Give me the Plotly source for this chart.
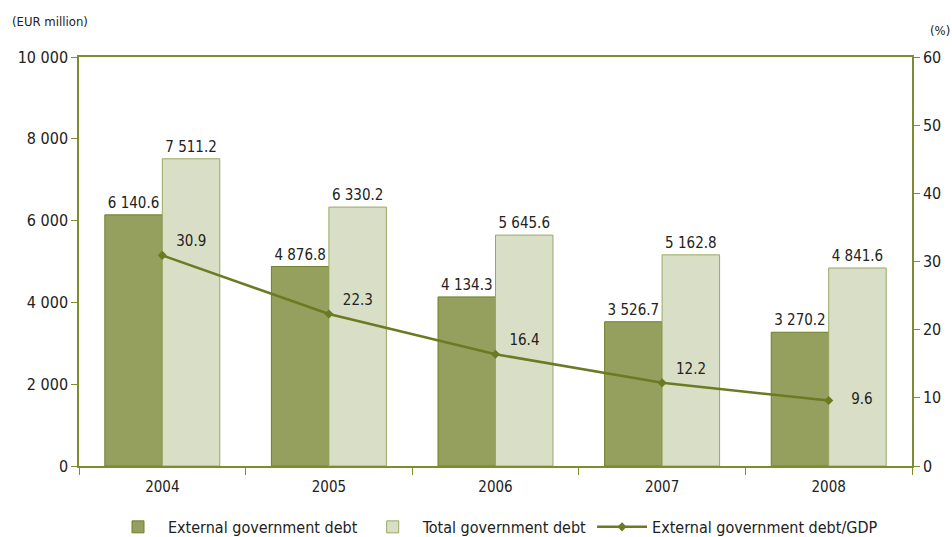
import plotly.graph_objects as go

years = ["2004", "2005", "2006", "2007", "2008"]
external_debt = [6140.6, 4876.8, 4134.3, 3526.7, 3270.2]
total_debt = [7511.2, 6330.2, 5645.6, 5162.8, 4841.6]
debt_to_gdp = [30.9, 22.3, 16.4, 12.2, 9.6]

FONT = "DejaVu Sans Condensed, Liberation Sans Narrow, sans-serif"
AXIS = "#7d8c2f"
TXT = "#222222"

fig = go.Figure()
fig.add_trace(go.Bar(
    x=years, y=external_debt, name="External government debt",
    marker=dict(color="#95a05e", line=dict(color="#6f7f2a", width=1)),
    texttemplate="%{y:,.1f}", textposition="outside",
    textfont=dict(size=15, color=TXT, family=FONT), cliponaxis=False,
))
fig.add_trace(go.Bar(
    x=years, y=total_debt, name="Total government debt",
    marker=dict(color="#d9dfc6", line=dict(color="#9aa764", width=1)),
    texttemplate="%{y:,.1f}", textposition="outside",
    textfont=dict(size=15, color=TXT, family=FONT), cliponaxis=False,
))
fig.add_trace(go.Scatter(
    x=years, y=debt_to_gdp, name="External government debt/GDP", yaxis="y2",
    mode="lines+markers+text",
    line=dict(color="#6b7a23", width=2.5),
    marker=dict(symbol="diamond", size=7, color="#6b7a23"),
    texttemplate=["  %{y:.1f}"] * 4 + ["    %{y:.1f}"],
    textposition=["top right", "top right", "top right", "top right", "middle right"],
    textfont=dict(size=15, color=TXT, family=FONT), cliponaxis=False,
))

fig.update_layout(
    width=952, height=537,
    margin=dict(l=79, r=40, t=57, b=71, autoexpand=False),
    paper_bgcolor="white", plot_bgcolor="white",
    separators=". ",
    font=dict(family=FONT, size=15, color=TXT),
    barmode="group", bargap=0.31, bargroupgap=0,
    showlegend=True,
    legend=dict(orientation="h", x=0.5, xanchor="center", y=-0.149, yanchor="middle",
                font=dict(size=16, color=TXT, family=FONT), traceorder="normal",
                itemwidth=50),
    xaxis=dict(type="category", showline=True, linecolor=AXIS, linewidth=1.5,
               mirror=True, ticks="outside", tickson="boundaries", ticklen=7,
               tickcolor=AXIS, showgrid=False, tickfont=dict(size=15),
               ticklabelstandoff=6),
    yaxis=dict(range=[0, 10000], dtick=2000, tickformat=",d", showgrid=False,
               zeroline=False, showline=True, linecolor=AXIS, linewidth=1.5,
               ticks="outside", ticklen=6, tickcolor=AXIS, tickfont=dict(size=16)),
    yaxis2=dict(range=[0, 60], dtick=10, overlaying="y", side="right",
                showgrid=False, zeroline=False, showline=True, linecolor=AXIS,
                linewidth=1.5, ticks="outside", ticklen=6, tickcolor=AXIS,
                tickfont=dict(size=16)),
    annotations=[
        dict(text="(EUR million)", xref="paper", yref="paper", x=-0.083, y=1.086,
             xanchor="left", yanchor="middle", showarrow=False,
             font=dict(size=13, color=TXT)),
        dict(text="(%)", xref="paper", yref="paper", x=1.0336, y=1.066,
             xanchor="center", yanchor="middle", showarrow=False,
             font=dict(size=13, color=TXT)),
    ],
)

fig.write_html("out.html")
